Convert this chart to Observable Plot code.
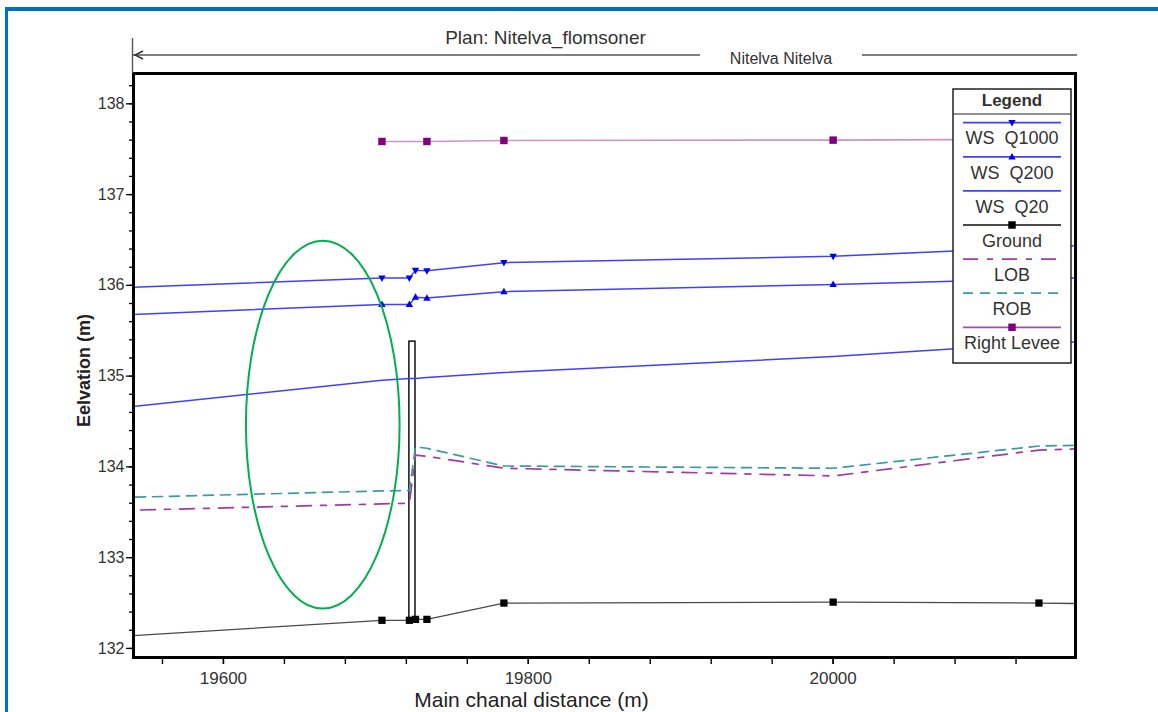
<!DOCTYPE html>
<html><head><meta charset="utf-8">
<script src="https://cdn.jsdelivr.net/npm/d3@7"></script>
<script src="https://cdn.jsdelivr.net/npm/@observablehq/plot@0.6"></script>
<style>
html,body{margin:0;padding:0;background:#fff;overflow:hidden}
#wrap{position:relative;width:1158px;height:712px;overflow:hidden}
#border{position:absolute;left:5px;top:7px;width:1300px;height:900px;border-top:4px solid #0070c0;border-left:3px solid #0070c0}
#chart{position:absolute;left:0;top:0}
</style></head><body>
<div id="wrap"><div id="border"></div><div id="chart"></div></div>
<script>
// ---- data ----
const stations = [19520, 19704, 19722, 19726, 19733.5, 19784, 20000, 20135, 20180];
const wsQ1000  = [135.967, 136.08, 136.08, 136.165, 136.16, 136.25, 136.32, 136.42, 136.45];
const wsQ200   = [135.665, 135.79, 135.79, 135.87, 135.86, 135.93, 136.01, 136.07, 136.09];
const wsQ20    = [134.63, 134.955, 134.975, 134.975, 134.985, 135.04, 135.215, 135.36, 135.39];
const ground   = [132.12, 132.31, 132.31, 132.32, 132.32, 132.50, 132.51, 132.50, 132.49];
const lob      = [133.514, 133.592, 133.60, 134.13, 134.117, 133.985, 133.90, 134.185, 134.21];
const rob      = [133.657, 133.735, 133.74, 134.22, 134.205, 134.01, 133.985, 134.23, 134.245];
const leveeStations = [19704, 19733.5, 19784, 20000, 20135];
const rightLevee    = [137.585, 137.585, 137.596, 137.60, 137.61];
const bridgeStations = [19722, 19726];
const bridgeBottom = [132.31, 132.32];
const bridgeDeck = 135.38;
const xDomain = [19541, 20159];
const yDomain = [131.90, 138.334];
const xMajorTicks = [19600, 19800, 20000];
const xMinorTicks = [19560, 19600, 19640, 19680, 19720, 19760, 19800, 19840, 19880, 19920, 19960, 20000, 20040, 20080, 20120];
const yMajorTicks = [132, 133, 134, 135, 136, 137, 138];
const yMinorTicks = d3.range(0, 32).map(i => 132 + i * 0.2);
const ellipseNote = {cx: 19665.5, cy: 134.46, rx: 50.4, ry: 2.027};
const seriesNames = ["WS  Q1000", "WS  Q200", "WS  Q20", "Ground", "LOB", "ROB", "Right Levee"];
const titleText = "Plan: Nitelva_flomsoner";
const reachText = "Nitelva Nitelva";
const xLabel = "Main chanal distance (m)";
const yLabel = "Eelvation (m)";

// ---- styles ----
const FONT = "'Liberation Sans', Arial, sans-serif";
const wsColor = "#4040ff", wsMarker = "#0000f0";
const groundColor = "#4a4a4a";
const lobColor = "#a33aa3", robColor = "#3a9c9c";
const leveeColor = "#c996c9", leveeMarker = "#800080";
const lobDash = "15,9,6,9", robDash = "10,7";

const triUp = {draw(ctx, size){const s = Math.sqrt(size)*1.22, h = s*0.88; ctx.moveTo(0,-h*0.6); ctx.lineTo(s/2,h*0.4); ctx.lineTo(-s/2,h*0.4); ctx.closePath();}};
const triDown = {draw(ctx, size){const s = Math.sqrt(size)*1.22, h = s*0.88; ctx.moveTo(0,h*0.6); ctx.lineTo(s/2,-h*0.4); ctx.lineTo(-s/2,-h*0.4); ctx.closePath();}};

const tidy = (xs, ys) => xs.map((x, i) => ({x, y: ys[i]}));
const dQ1000 = tidy(stations, wsQ1000), dQ200 = tidy(stations, wsQ200), dQ20 = tidy(stations, wsQ20);
const dGround = tidy(stations, ground), dLob = tidy(stations, lob), dRob = tidy(stations, rob);
const dLevee = tidy(leveeStations, rightLevee);
const dBridge = [{x1: bridgeStations[0], x2: bridgeStations[1], y1: Math.min(...bridgeBottom), y2: bridgeDeck}];

const legendItems = [
  {stroke: wsColor, symbol: triDown, fill: wsMarker},
  {stroke: wsColor, symbol: triUp, fill: wsMarker},
  {stroke: wsColor},
  {stroke: groundColor, symbol: d3.symbolSquare, fill: "#000"},
  {stroke: lobColor, dash: lobDash},
  {stroke: robColor, dash: robDash},
  {stroke: "#a050a0", symbol: d3.symbolSquare, fill: leveeMarker}
].map((d, i) => ({...d, name: seriesNames[i]}));

function ellipseMark(index, scales) {
  const cx = scales.x(ellipseNote.cx), cy = scales.y(ellipseNote.cy);
  const rx = Math.abs(scales.x(ellipseNote.cx + ellipseNote.rx) - cx);
  const ry = Math.abs(scales.y(ellipseNote.cy + ellipseNote.ry) - cy);
  const e = d3.create("svg:ellipse").attr("cx", cx).attr("cy", cy).attr("rx", rx).attr("ry", ry)
    .attr("fill", "none").attr("stroke", "#00b050").attr("stroke-width", 2);
  return e.node();
}

function headerMark(index, scales, values, dim) {
  const left = dim.marginLeft, right = dim.width - dim.marginRight, top = dim.marginTop;
  const g = d3.create("svg:g").attr("stroke", "#555").attr("stroke-width", 1.4).attr("fill", "none");
  const ly = top - 18;
  g.append("line").attr("x1", left - 0.5).attr("x2", left - 0.5).attr("y1", top - 35).attr("y2", top);
  const gapC = left + 648, gapHalf = 81;
  g.append("line").attr("x1", left).attr("x2", gapC - gapHalf).attr("y1", ly).attr("y2", ly);
  g.append("line").attr("x1", gapC + gapHalf).attr("x2", right + 2).attr("y1", ly).attr("y2", ly);
  g.append("path").attr("d", `M${left+10},${ly-4}L${left+2},${ly}L${left+10},${ly+4}`).attr("stroke", "#333");
  g.append("text").attr("x", gapC).attr("y", ly + 3).attr("dy", "0.35em").attr("text-anchor", "middle")
    .attr("stroke", "none").attr("fill", "#333").attr("font-size", 16).attr("font-family", FONT).text(reachText);
  return g.node();
}

function legendMark(index, scales, values, dim) {
  const right = dim.width - dim.marginRight, top = dim.marginTop;
  const bw = 118, bh = 274, bx = right - 4 - bw, by = top + 16, th = 25;
  const cx = bx + bw / 2;
  const g = d3.create("svg:g").attr("font-family", FONT);
  g.append("rect").attr("x", bx).attr("y", by).attr("width", bw).attr("height", bh)
    .attr("fill", "white").attr("stroke", "#222").attr("stroke-width", 1.5);
  g.append("line").attr("x1", bx).attr("x2", bx + bw).attr("y1", by + th).attr("y2", by + th)
    .attr("stroke", "#222").attr("stroke-width", 1.2);
  g.append("text").attr("x", cx).attr("y", by + 11).attr("dy", "0.35em").attr("text-anchor", "middle")
    .attr("font-weight", "bold").attr("font-size", 17).attr("fill", "#333").text("Legend");
  legendItems.forEach((d, i) => {
    const ly = by + 33.7 + i * 34.1;
    g.append("line").attr("x1", bx + 10).attr("x2", bx + bw - 10).attr("y1", ly).attr("y2", ly)
      .attr("stroke", d.stroke).attr("stroke-width", 1.8).attr("stroke-dasharray", d.dash || null);
    if (d.symbol) {
      const size = d.symbol === d3.symbolSquare ? 56 : 36;
      g.append("path").attr("transform", `translate(${cx},${ly})`)
        .attr("d", d3.symbol(d.symbol, size)()).attr("fill", d.fill);
    }
    g.append("text").attr("x", cx).attr("y", ly + 15.4).attr("dy", "0.35em").attr("text-anchor", "middle")
      .attr("font-size", 18).attr("fill", "#333").style("white-space", "pre").text(d.name);
  });
  return g.node();
}

const plot = Plot.plot({
  width: 1158, height: 712,
  marginLeft: 133, marginRight: 83, marginTop: 73, marginBottom: 55,
  x: {domain: xDomain},
  y: {domain: yDomain},
  style: {fontFamily: FONT, background: "transparent", color: "#333", overflow: "visible"},
  marks: [
    Plot.rect(dBridge, {x1: "x1", x2: "x2", y1: "y1", y2: "y2", fill: "white", stroke: "#111", strokeWidth: 1.5}),
    Plot.line(dGround, {x: "x", y: "y", stroke: groundColor, strokeWidth: 1.3, clip: true}),
    Plot.dot(dGround, {x: "x", y: "y", symbol: "square", r: 4.1, fill: "#000", clip: true}),
    Plot.line(dLob, {x: "x", y: "y", stroke: lobColor, strokeWidth: 1.7, strokeDasharray: lobDash, clip: true}),
    Plot.line(dRob, {x: "x", y: "y", stroke: robColor, strokeWidth: 1.7, strokeDasharray: robDash, clip: true}),
    Plot.line(dQ20, {x: "x", y: "y", stroke: wsColor, strokeWidth: 1.5, clip: true}),
    Plot.line(dQ200, {x: "x", y: "y", stroke: wsColor, strokeWidth: 1.5, clip: true}),
    Plot.dot(dQ200, {x: "x", y: "y", symbol: triUp, r: 3.4, fill: wsMarker, clip: true}),
    Plot.line(dQ1000, {x: "x", y: "y", stroke: wsColor, strokeWidth: 1.5, clip: true}),
    Plot.dot(dQ1000, {x: "x", y: "y", symbol: triDown, r: 3.4, fill: wsMarker, clip: true}),
    Plot.line(dLevee, {x: "x", y: "y", stroke: leveeColor, strokeWidth: 1.7, clip: true}),
    Plot.dot(dLevee, {x: "x", y: "y", symbol: "square", r: 4.2, fill: leveeMarker, clip: true}),
    ellipseMark,
    Plot.frame({stroke: "#000", strokeWidth: 3}),
    Plot.axisY({ticks: yMinorTicks, tickSize: 4, tickFormat: () => "", label: null, stroke: "#000", strokeWidth: 1.3}),
    Plot.axisY({ticks: yMajorTicks, tickSize: 7, tickPadding: 2, fontSize: 16, tickFormat: d => String(d), label: null, stroke: "#000", strokeWidth: 1.3, fill: "#333"}),
    Plot.axisX({ticks: xMinorTicks, tickSize: 7, tickFormat: () => "", label: null, stroke: "#000", strokeWidth: 1.4}),
    Plot.axisX({ticks: xMajorTicks, tickSize: 7, tickPadding: 7, fontSize: 17, tickFormat: d => String(d), label: null, stroke: "#000", strokeWidth: 1.4, fill: "#333"}),
    Plot.text([titleText], {frameAnchor: "top", lineAnchor: "middle", textAnchor: "middle", dx: -59, dy: -36, fontSize: 19, fill: "#333"}),
    Plot.text([xLabel], {frameAnchor: "bottom", lineAnchor: "middle", textAnchor: "middle", dx: -73, dy: 43, fontSize: 21, fill: "#222"}),
    Plot.text([yLabel], {frameAnchor: "left", lineAnchor: "middle", textAnchor: "middle", dx: -49, dy: 5, rotate: -90, fontSize: 18, fontWeight: "bold", fill: "#222"}),
    headerMark,
    legendMark
  ]
});
document.getElementById("chart").appendChild(plot);
</script></body></html>
